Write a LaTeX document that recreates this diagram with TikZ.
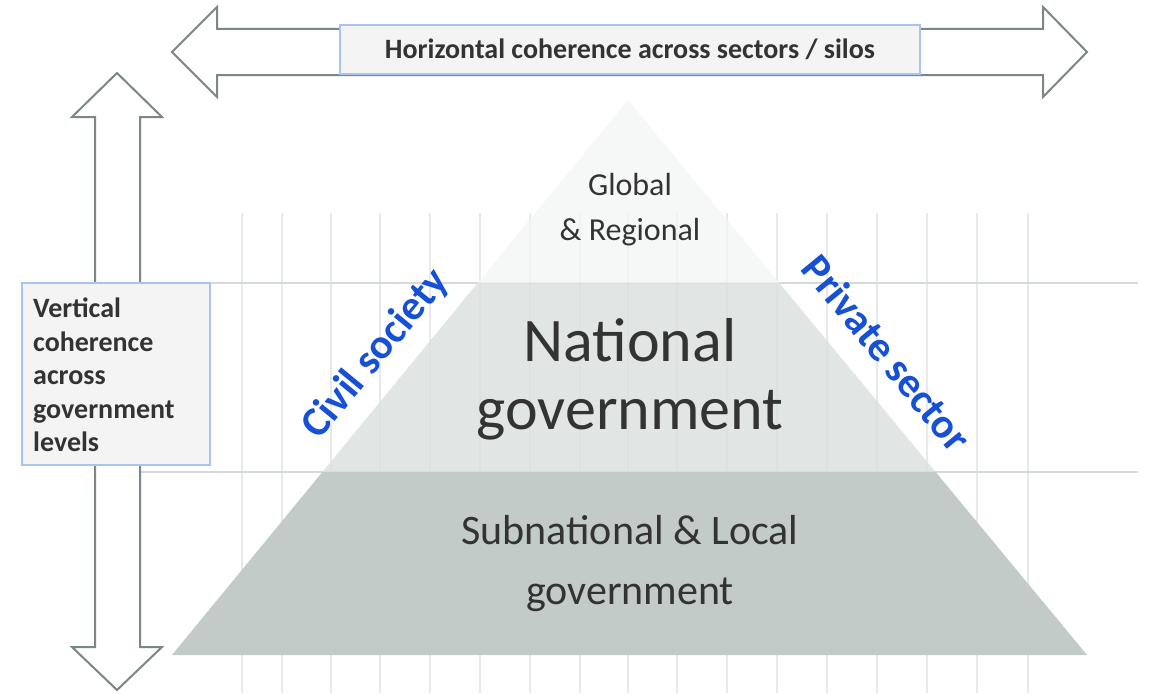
\documentclass[tikz,border=0pt]{standalone}
\usepackage{fontspec}
\setmainfont{Carlito}
\definecolor{gridv}{HTML}{E6EAE9}
\definecolor{gridh}{HTML}{D4DAD8}
\definecolor{toplay}{HTML}{F4F5F5}
\definecolor{natlay}{HTML}{DCE1E0}
\definecolor{sublay}{HTML}{C3CBC9}
\definecolor{arrowline}{HTML}{7B8784}
\definecolor{boxline}{HTML}{A9C3F3}
\definecolor{boxfill}{HTML}{F4F4F4}
\definecolor{darktext}{HTML}{333333}
\definecolor{bluetext}{HTML}{1650D6}
\tikzset{
  gridvline/.style={draw=gridv, line width=2pt},
  gridhline/.style={draw=gridh, line width=2.6pt},
  bigarrow/.style={draw=arrowline, fill=white, line width=2pt, line join=miter},
  bluebox/.style={draw=boxline, fill=boxfill, line width=2.5pt, inner sep=0pt},
  labeltext/.style={text=darktext, inner sep=0pt},
  sidetext/.style={text=bluetext, font=\bfseries\fontsize{42}{48}\selectfont, inner sep=0pt}
}
\begin{document}
\begin{tikzpicture}[x=1pt,y=-1pt]
\useasboundingbox (0,0) rectangle (1150,693);
\fill[white] (0,0) rectangle (1150,693);
% grid
\foreach \gx in {242,282,331,380,430,480,530,580,628,677,727,777,827,877,927,977,1028}
  \draw[gridvline] (\gx,213) -- (\gx,693);
\draw[gridhline] (95,283) -- (1138,283);
\draw[gridhline] (95,472) -- (1138,472);
% pyramid
\fill[toplay, fill opacity=0.75] (628,100) -- (779.3,283) -- (477.6,283) -- cycle;
\fill[natlay, fill opacity=0.85] (477.6,283) -- (779.3,283) -- (935.6,472) -- (322.4,472) -- cycle;
\fill[sublay] (322.4,472) -- (935.6,472) -- (1087,655) -- (172,655) -- cycle;
% arrows
\draw[bigarrow] (172,52) -- (217,7) -- (217,29) -- (1043,29) -- (1043,7) -- (1087,52)
  -- (1043,97) -- (1043,75) -- (217,75) -- (217,97) -- cycle;
\draw[bigarrow] (117,73) -- (162,117) -- (140,117) -- (140,647) -- (162,647) -- (117,690)
  -- (72,647) -- (95,647) -- (95,117) -- (72,117) -- cycle;
% boxes
\node[bluebox, minimum width=580pt, minimum height=49pt, text=darktext,
  font=\bfseries\fontsize{28}{32}\selectfont] (hbox) at (630,49.5)
  {Horizontal coherence across sectors / silos};
\node[bluebox, minimum width=188pt, minimum height=182pt] (vbox) at (116,374) {};
\node[labeltext, anchor=west, align=left, font=\bfseries\fontsize{28}{33.5}\selectfont] (vtext) at (33,375)
  {Vertical\\coherence\\across\\government\\levels};
% layer labels
\node[labeltext, font=\fontsize{32}{38}\selectfont] (global) at (630,185) {Global};
\node[labeltext, font=\fontsize{32}{38}\selectfont] (regional) at (630,232) {\& Regional};
\node[labeltext, font=\fontsize{62}{70}\selectfont] (national) at (630,340) {National};
\node[labeltext, font=\fontsize{62}{70}\selectfont] (natgov) at (630,415) {government};
\node[labeltext, font=\fontsize{42}{48}\selectfont] (subnat) at (630,530) {Subnational \& Local};
\node[labeltext, font=\fontsize{42}{48}\selectfont] (subgov) at (630,595) {government};
% side labels
\node[sidetext, rotate=50.6] (civil) at (376,354) {Civil society};
\node[sidetext, rotate=-50.6] (private) at (887,353) {Private sector};
\end{tikzpicture}
\end{document}
